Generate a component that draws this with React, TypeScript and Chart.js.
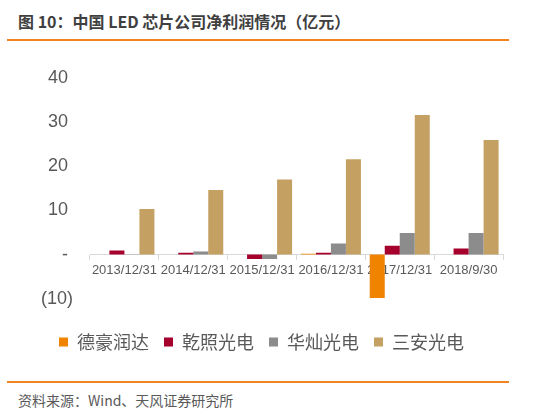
import React, { useEffect, useRef } from "react";
import { Chart, registerables } from "chart.js";

Chart.register(...registerables);

const categories = ["2013/12/31", "2014/12/31", "2015/12/31", "2016/12/31", "2017/12/31", "2018/9/30"];
const seriesNames = ["德豪润达", "乾照光电", "华灿光电", "三安光电"];
const dehao = [0, 0, 0, 0.2, -9.8, 0];
const qianzhao = [0.9, 0.4, -1.0, 0.4, 2.0, 1.4];
const huacan = [0.1, 0.7, -1.0, 2.5, 4.9, 4.9];
const sanan = [10.3, 14.6, 17.0, 21.6, 31.6, 25.9];
const seriesColors = ["#F08300", "#A6002D", "#8C8C8C", "#C4A062"];
const yMin = -10;
const yMax = 40;
const yStep = 10;

const latin = "'Liberation Sans', Arial, sans-serif";
const cjk = "'Noto Sans CJK SC', 'Liberation Sans', sans-serif";

export default function App() {
  const ref = useRef<HTMLCanvasElement | null>(null);

  useEffect(() => {
    if (!ref.current) return;
    const values = [dehao, qianzhao, huacan, sanan];
    const chart = new Chart(ref.current, {
      type: "bar",
      data: {
        labels: categories,
        datasets: seriesNames.map((name, i) => ({
          label: name,
          data: values[i],
          backgroundColor: seriesColors[i],
          borderWidth: 0,
          barPercentage: 1,
          categoryPercentage: 0.872,
        })),
      },
      options: {
        animation: false,
        responsive: false,
        maintainAspectRatio: false,
        layout: { padding: { left: 20, right: 51, top: 24, bottom: 5 } },
        plugins: {
          tooltip: { enabled: false },
          legend: {
            position: "bottom",
            align: "center",
            title: { display: true, text: "", padding: 0, font: { size: 16 } },
            labels: {
              boxWidth: 9,
              boxHeight: 9,
              padding: 15,
              color: "#595959",
              font: { family: cjk, size: 18 },
            },
          },
        },
        scales: {
          x: {
            position: { y: 0 },
            grid: {
              display: true,
              drawOnChartArea: false,
              drawTicks: true,
              tickLength: 5,
              color: "#D9D9D9",
              offset: true,
            },
            border: { display: true, color: "#D9D9D9", width: 1 },
            ticks: {
              color: "#595959",
              font: { family: latin, size: 13 },
              padding: 3,
              maxRotation: 0,
              autoSkip: false,
            },
          },
          y: {
            min: yMin,
            max: yMax,
            afterFit: (scale: any) => {
              scale.width = 70;
            },
            grid: { display: false, drawTicks: false },
            border: { display: false },
            ticks: {
              stepSize: yStep,
              padding: 17,
              color: "#595959",
              font: { family: latin, size: 18 },
              callback: (v: any) => {
                const n = Number(v);
                if (n < 0) return `(${-n})`;
                if (n === 0) return "- ";
                return `${n} `;
              },
            },
          },
        },
      },
    });
    return () => chart.destroy();
  }, []);

  return (
    <div
      style={{
        position: "fixed",
        left: 0,
        top: 0,
        width: 554,
        height: 414,
        background: "#ffffff",
        overflow: "hidden",
      }}
    >
      <div
        style={{
          position: "absolute",
          left: 18,
          top: 10,
          fontFamily: cjk,
          fontWeight: 700,
          fontSize: 16,
          lineHeight: "22px",
          color: "#3F3F3F",
          whiteSpace: "nowrap",
        }}
      >
        图 10：中国 LED 芯片公司净利润情况（亿元）
      </div>
      <div style={{ position: "absolute", left: 7, top: 39, width: 502, height: 2, background: "#F28522" }} />
      <canvas
        ref={ref}
        width={554}
        height={316}
        style={{ position: "absolute", left: 0, top: 50, width: 554, height: 316 }}
      />
      <div style={{ position: "absolute", left: 7, top: 381, width: 502, height: 2, background: "#F28522" }} />
      <div
        style={{
          position: "absolute",
          left: 18,
          top: 390,
          fontFamily: cjk,
          fontSize: 14,
          lineHeight: "20px",
          color: "#595959",
          whiteSpace: "nowrap",
        }}
      >
        资料来源：Wind、天风证券研究所
      </div>
    </div>
  );
}
